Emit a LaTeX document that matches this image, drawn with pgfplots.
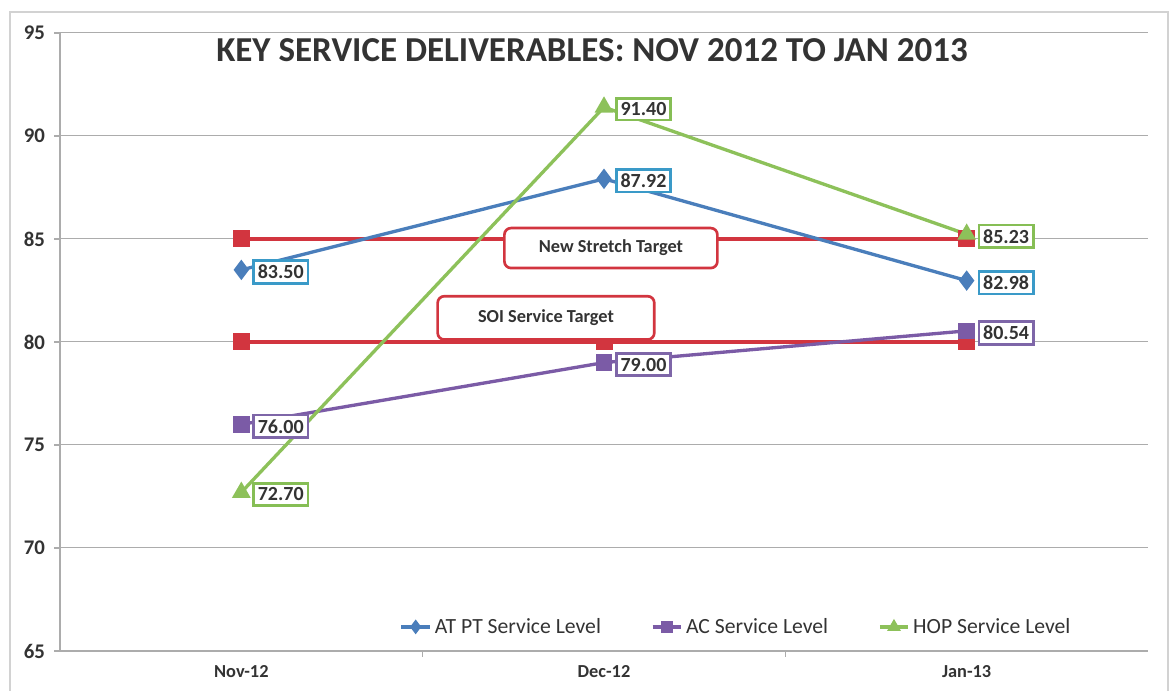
\documentclass[border=0pt]{standalone}
\usepackage{pgfplots}
\pgfplotsset{compat=1.18}
\usepackage{fontspec}
\setmainfont{Carlito}
\definecolor{cblue}{HTML}{4A7EBB}
\definecolor{cpurple}{HTML}{7B5BA6}
\definecolor{cgreen}{HTML}{8DC15A}
\definecolor{cred}{HTML}{D2353F}
\definecolor{bblue}{HTML}{3A9AC8}
\definecolor{bpurple}{HTML}{7E66A8}
\definecolor{bgreen}{HTML}{86BE55}
\definecolor{ctext}{HTML}{333333}
\pgfplotsset{
  vlabel/.style={
    nodes near coords={\pgfmathprintnumber[fixed,fixed zerofill,precision=2]{\pgfplotspointmeta}},
    every node near coord/.append style={anchor=west, xshift=6.5pt, yshift=-1.2pt, fill=white, text=ctext,
      font=\bfseries\fontsize{12}{14}\selectfont, inner sep=2.6pt, line width=1.6pt, draw=#1}}
}
\begin{document}
\begin{tikzpicture}[x=1pt,y=1pt]
\useasboundingbox (0,0) rectangle (702,414.6);
\draw[gray!35, line width=0.8pt] (6,-2) -- (6,407.4) -- (700.8,407.4) -- (700.8,-2);
\begin{axis}[
  at={(36pt,24pt)}, anchor=south west,
  scale only axis, width=652.8pt, height=370.8pt,
  xmin=-0.5, xmax=2.5, ymin=65, ymax=95,
  ytick={65,70,...,95},
  ymajorgrids, grid style={gray!65, line width=0.6pt},
  axis x line*=bottom, axis y line*=left,
  axis line style={gray!65, line width=0.8pt, -},
  tick style={gray!65, line width=0.8pt},
  tick align=outside, major tick length=3.5pt,
  /pgf/number format/assume math mode=true,
  ticklabel style={font=\bfseries\fontsize{11}{13}\selectfont, text=ctext},
  yticklabel style={font=\bfseries\fontsize{12.5}{14}\selectfont, xshift=-2pt},
  xtick={0.5,1.5}, xticklabels={},
  extra x ticks={0,1,2}, extra x tick labels={Nov-12,Dec-12,Jan-13},
  extra x tick style={major tick length=0pt, tick style={draw=none}, xticklabel style={yshift=-5pt}},
  clip=false,
  legend style={at={(0.622,0.039)}, anchor=center, draw=none, fill=none,
    font=\fontsize{13}{15}\selectfont, text=ctext, inner sep=0pt,
    /tikz/every even column/.style={column sep=28pt}},
  legend columns=3,
  legend cell align=left,
  legend image post style={mark size=2.8pt},
]
\addplot[cred, line width=2.2pt, mark=square*, mark size=4pt, mark options={fill=cred}, forget plot]
  coordinates {(0,85) (1,85) (2,85)};
\addplot[cred, line width=2.2pt, mark=square*, mark size=4pt, mark options={fill=cred}, forget plot]
  coordinates {(0,80) (1,80) (2,80)};
\addplot[cblue, line width=2pt, mark=diamond*, mark size=4.5pt, mark options={fill=cblue}, vlabel=bblue]
  coordinates {(0,83.50) (1,87.92) (2,82.98)};
\addlegendentry{AT PT Service Level}
\addplot[cpurple, line width=2pt, mark=square*, mark size=4pt, mark options={fill=cpurple}, vlabel=bpurple]
  coordinates {(0,76.00) (1,79.00) (2,80.54)};
\addlegendentry{AC Service Level}
\addplot[cgreen, line width=2pt, mark=triangle*, mark size=4.5pt, mark options={fill=cgreen}, vlabel=bgreen]
  coordinates {(0,72.70) (1,91.40) (2,85.23)};
\addlegendentry{HOP Service Level}
\coordinate (ns) at (axis cs:1.019,84.56);
\coordinate (soi) at (axis cs:0.84,81.17);
\end{axis}
\node[draw=cred, line width=1.6pt, fill=white, rounded corners=4pt, minimum width=127.8pt, minimum height=24pt,
  font=\bfseries\fontsize{11}{13}\selectfont, text=ctext] at (ns) {New Stretch Target};
\node[draw=cred, line width=1.6pt, fill=white, rounded corners=4pt, minimum width=130pt, minimum height=26pt,
  font=\bfseries\fontsize{11}{13}\selectfont, text=ctext] at (soi) {SOI Service Target};
\node[font=\bfseries\fontsize{21}{25}\selectfont, text=ctext] at (355.2,384.6) {KEY SERVICE DELIVERABLES: NOV 2012 TO JAN 2013};
\end{tikzpicture}
\end{document}
